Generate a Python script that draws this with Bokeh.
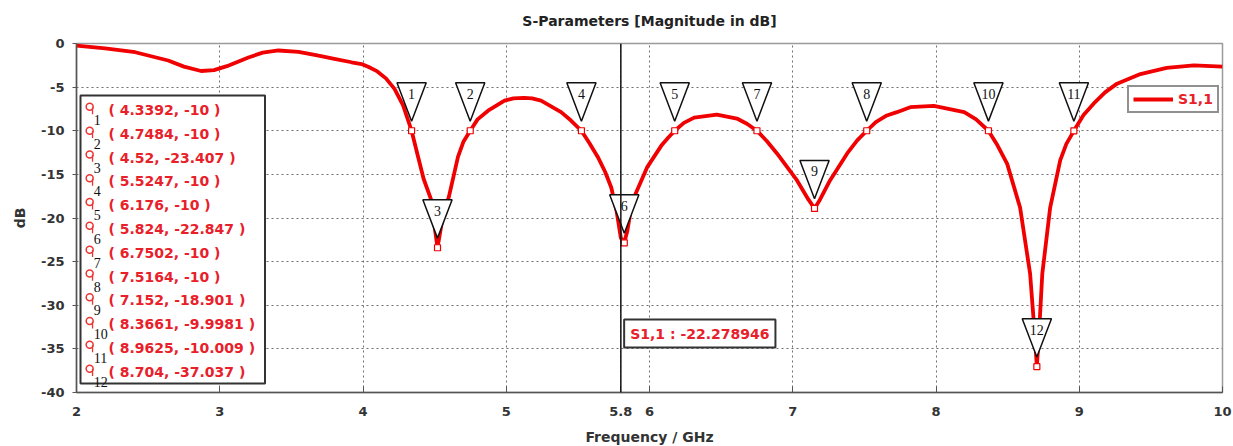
from bokeh.plotting import figure
from bokeh.models import Range1d, Span, Label, Legend, LegendItem, FixedTicker
from bokeh.core.properties import value
from bokeh.embed import file_html
from bokeh.resources import INLINE

# ---------------- data ----------------
freq = [2.00, 2.20, 2.41, 2.64, 2.75, 2.87, 2.96, 3.05, 3.20, 3.30, 3.41, 3.55, 3.69, 3.80,
        3.92, 3.99, 4.04, 4.10, 4.16, 4.22, 4.28, 4.3392, 4.38, 4.423, 4.478, 4.50, 4.52, 4.54,
        4.56, 4.599, 4.663, 4.70, 4.7484, 4.80, 4.873, 4.988, 5.05, 5.123, 5.18, 5.243,
        5.383, 5.45, 5.5247, 5.58, 5.639, 5.69, 5.733, 5.77, 5.80, 5.824, 5.845, 5.87,
        5.893, 5.983, 6.083, 6.13, 6.176, 6.24, 6.312, 6.47, 6.61, 6.68, 6.7502, 6.82,
        6.89, 7.03, 7.11, 7.152, 7.19, 7.26, 7.38, 7.45, 7.5164, 7.58, 7.657, 7.727, 7.82,
        7.985, 8.197, 8.28, 8.3661, 8.43, 8.497, 8.587, 8.657, 8.69, 8.704, 8.72, 8.742,
        8.797, 8.867, 8.91, 8.9625, 9.03, 9.10, 9.18, 9.264, 9.427, 9.61, 9.80, 10.0]
s11 = [-0.25, -0.55, -1.0, -1.95, -2.65, -3.15, -3.05, -2.6, -1.6, -1.05, -0.8, -0.95, -1.4,
       -1.75, -2.15, -2.35, -2.7, -3.2, -4.0, -5.2, -7.1, -10.0, -12.7, -15.5, -18.0, -21.0,
       -23.407, -21.5, -19.5, -17.6, -13.0, -11.3, -10.0, -8.7, -7.7, -6.55, -6.3, -6.23,
       -6.3, -6.55, -7.87, -8.8, -10.0, -11.4, -13.0, -14.7, -16.5, -19.2, -22.279, -22.847,
       -21.5, -19.0, -17.6, -14.2, -11.7, -10.8, -10.0, -9.1, -8.5, -8.14, -8.6, -9.2, -10.0,
       -11.2, -12.6, -15.7, -17.9, -18.901, -17.9, -15.7, -12.6, -11.1, -10.0, -9.0, -8.25,
       -7.87, -7.3, -7.15, -7.87, -8.7, -9.998, -11.7, -13.8, -18.8, -26.4, -33.5, -37.037,
       -33.0, -26.4, -18.8, -13.4, -11.5, -10.009, -8.2, -6.9, -5.6, -4.6, -3.5, -2.8, -2.5,
       -2.65]

mk_num = ["1", "2", "3", "4", "5", "6", "7", "8", "9", "10", "11", "12"]
mk_f = [4.3392, 4.7484, 4.52, 5.5247, 6.176, 5.824, 6.7502, 7.5164, 7.152, 8.3661, 8.9625, 8.704]
mk_v = [-10, -10, -23.407, -10, -10, -22.847, -10, -10, -18.901, -9.9981, -10.009, -37.037]

cursor_f = 5.8
cursor_v = -22.278946

x_ticks = [2, 3, 4, 5, 6, 7, 8, 9, 10]
y_ticks = [0, -5, -10, -15, -20, -25, -30, -35, -40]

title_text = "S-Parameters [Magnitude in dB]"
x_label = "Frequency / GHz"
y_label = "dB"
series_name = "S1,1"

# ---------------- styling ----------------
SANS = "DejaVu Sans"
SERIF = "Liberation Serif"
RED = "#f00000"
TXT_RED = "#e8202a"

p = figure(frame_width=1146, frame_height=349,
           min_border_left=76, min_border_right=11, min_border_top=43, min_border_bottom=54,
           x_range=Range1d(2, 10), y_range=Range1d(-40, 0),
           output_backend="svg", toolbar_location=None, title=title_text,
           background_fill_color="white", border_fill_color="white")

p.title.align = "center"
p.title.vertical_align = "top"
p.title.text_font = SANS
p.title.text_font_size = "14px"
p.title.text_font_style = "bold"
p.title.text_color = "#222222"
p.title.standoff = 25

p.outline_line_color = "#9a9a9a"
p.outline_line_width = 1.5

p.xaxis.ticker = FixedTicker(ticks=x_ticks + [cursor_f])
p.yaxis.ticker = FixedTicker(ticks=y_ticks)
xo = {t: str(t) for t in x_ticks}
xo[cursor_f] = f"{cursor_f:g}"
p.xaxis.major_label_overrides = xo
p.yaxis.major_label_overrides = {t: str(t) for t in y_ticks}
for ax in (p.xaxis, p.yaxis):
    ax.major_label_text_font = SANS
    ax.major_label_text_font_size = "13px"
    ax.major_label_text_font_style = "bold"
    ax.major_label_text_color = "#333333"
    ax.axis_label_text_font = SANS
    ax.axis_label_text_font_size = "14px"
    ax.axis_label_text_font_style = "bold"
    ax.axis_label_text_color = "#333333"
    ax.axis_line_color = "#555555"
    ax.axis_line_width = 1.5
    ax.major_tick_line_color = "#555555"
    ax.minor_tick_line_color = None
p.xaxis.axis_label = x_label
p.yaxis.axis_label = y_label
p.xaxis.major_tick_in = 6
p.xaxis.major_tick_out = 0
p.xaxis.major_label_standoff = 14
p.xaxis.axis_label_standoff = 10
p.yaxis.major_tick_in = 0
p.yaxis.major_tick_out = 4
p.yaxis.major_label_standoff = 8
p.yaxis.axis_label_standoff = 10

p.grid.grid_line_color = "#6f6f6f"
p.grid.grid_line_dash = "2 3"
p.grid.grid_line_width = 1

# ---------------- left marker list box ----------------
box_l, box_r, box_t, box_b = 2.028, 3.316, -5.96, -38.97
p.quad(left=[box_l], right=[box_r], top=[box_t], bottom=[box_b],
       fill_color="white", line_color="#333333", line_width=2)
row0, step = -7.61, 2.728
rows_y = [row0 - i * step for i in range(len(mk_num))]
p.scatter(x=[2.092] * len(rows_y), y=[y + 0.35 for y in rows_y], marker="circle", size=7,
          fill_color="white", line_color="#ee3333", line_width=1.5)
p.segment(x0=[2.112] * len(rows_y), y0=[y + 0.3 for y in rows_y],
          x1=[2.112] * len(rows_y), y1=[y - 0.5 for y in rows_y],
          line_color="#ee3333", line_width=1.3)
p.text(x=[2.12] * len(rows_y), y=[y - 1.15 for y in rows_y], text=mk_num,
       text_font=value(SERIF), text_font_size="14px", text_color="#111111",
       text_align="left", text_baseline="middle")
entry_text = [f"( {f:g}, {v:g} )" for f, v in zip(mk_f, mk_v)]
p.text(x=[2.223] * len(rows_y), y=rows_y, text=entry_text,
       text_font=value(SANS), text_font_size="14px", text_font_style="bold",
       text_color=TXT_RED, text_align="left", text_baseline="middle")

# ---------------- curve ----------------
line = p.line(freq, s11, line_color=RED, line_width=3.8)

# cursor line
p.add_layout(Span(location=cursor_f, dimension="height", line_color="#111111", line_width=1.5))

# marker triangles
tips = [v + 1.1 for v in mk_v]
tops = [t + 4.4 for t in tips]
p.patches(xs=[[f - 0.102, f + 0.102, f] for f in mk_f],
          ys=[[tp, tp, tip] for tp, tip in zip(tops, tips)],
          fill_color="white", line_color="#111111", line_width=1.5)
p.text(x=mk_f, y=[tp - 1.25 for tp in tops], text=mk_num,
       text_font=value(SERIF), text_font_size="14px", text_color="#111111",
       text_align="center", text_baseline="middle")
p.scatter(mk_f, mk_v, marker="square", size=6, fill_color="white", line_color=RED, line_width=1.2)

# cursor readout
p.add_layout(Label(x=5.823, y=-33.24, text=f"{series_name} : {cursor_v:.6f}",
                   text_font=SANS, text_font_size="14px", text_font_style="bold",
                   text_color=TXT_RED, text_baseline="middle", text_align="left",
                   background_fill_color="white", border_line_color="#333333",
                   border_line_width=2, padding=6))

legend = Legend(items=[LegendItem(label=series_name, renderers=[line])],
                location=(1051, 279), border_line_color="#222222", border_line_width=2,
                background_fill_color="white", background_fill_alpha=1.0,
                label_text_font=SANS, label_text_font_size="14px", label_text_font_style="bold",
                label_text_color=TXT_RED, glyph_width=40, glyph_height=14,
                label_standoff=5, padding=4, spacing=0, margin=0)
p.add_layout(legend)

open("out.html", "w").write(file_html(p, INLINE))
